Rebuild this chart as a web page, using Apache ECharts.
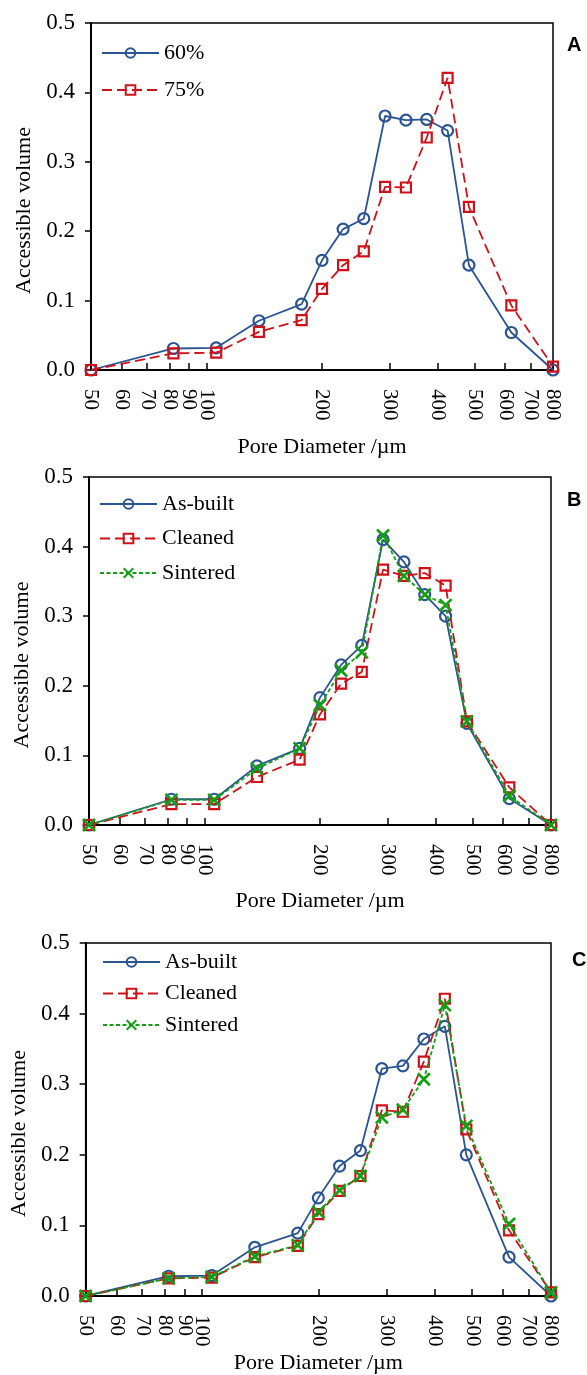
<!DOCTYPE html>
<html>
<head>
<meta charset="utf-8">
<script src="https://cdn.jsdelivr.net/npm/echarts@6/dist/echarts.min.js"></script>
<style>
  html, body { margin: 0; padding: 0; background: #fff; }
  #chart { width: 587px; height: 1375px; }
</style>
</head>
<body>
<div id="chart"></div>
<script>
// pore diameters (um) shared by every series
var poreSizes = [50, 82, 106, 137, 177, 200, 227, 257, 292, 331, 375, 425, 483, 623, 800];
var xTickValues = [50, 60, 70, 80, 90, 100, 200, 300, 400, 500, 600, 700, 800];

// panel A
var a60 = [0, 0.031, 0.032, 0.071, 0.095, 0.158, 0.203, 0.218, 0.366, 0.360, 0.361, 0.345, 0.151, 0.054, 0];
var a75 = [0, 0.024, 0.025, 0.055, 0.072, 0.117, 0.151, 0.171, 0.264, 0.263, 0.335, 0.421, 0.235, 0.093, 0.005];

// panel B
var bAsBuilt = [0, 0.037, 0.037, 0.085, 0.110, 0.183, 0.230, 0.258, 0.410, 0.378, 0.331, 0.300, 0.146, 0.038, 0];
var bCleaned = [0, 0.030, 0.030, 0.069, 0.094, 0.159, 0.203, 0.220, 0.367, 0.358, 0.362, 0.344, 0.149, 0.054, 0];
var bSintered = [0, 0.036, 0.036, 0.081, 0.110, 0.172, 0.222, 0.248, 0.416, 0.358, 0.331, 0.316, 0.149, 0.042, 0];

// panel C
var cAsBuilt = [0, 0.028, 0.029, 0.069, 0.089, 0.139, 0.184, 0.206, 0.322, 0.326, 0.364, 0.382, 0.200, 0.055, 0];
var cCleaned = [0, 0.025, 0.026, 0.055, 0.071, 0.116, 0.149, 0.170, 0.263, 0.261, 0.332, 0.421, 0.236, 0.093, 0.005];
var cSintered = [0, 0.025, 0.027, 0.056, 0.072, 0.119, 0.150, 0.170, 0.253, 0.264, 0.307, 0.412, 0.241, 0.102, 0.005];

var serif = "'Liberation Serif', 'Times New Roman', serif";
var BLUE = '#2b5592', RED = '#cf1119', GREEN = '#12a012';
var CROSS = 'path://M0,0L10,10M10,0L0,10';

function pairs(ys) {
    return poreSizes.map(function (x, i) { return [x, ys[i]]; });
}

function makeSeries(name, ys, idx, kind) {
    var s = {
        name: name,
        type: 'line',
        xAxisIndex: idx,
        yAxisIndex: idx,
        data: pairs(ys),
        symbolSize: 11,
        showAllSymbol: true,
        z: kind === 'blue' ? 2 : (kind === 'red' ? 3 : 4)
    };
    if (kind === 'blue') {
        s.symbol = 'circle';
        s.lineStyle = { color: BLUE, width: 1.8, type: 'solid' };
        s.itemStyle = { color: 'rgba(0,0,0,0)', borderColor: BLUE, borderWidth: 2.2 };
    } else if (kind === 'red') {
        s.symbol = 'rect';
        s.symbolSize = 10;
        s.lineStyle = { color: RED, width: 1.8, type: [10, 5] };
        s.itemStyle = { color: 'rgba(0,0,0,0)', borderColor: RED, borderWidth: 2.2 };
    } else {
        s.symbol = CROSS;
        s.symbolSize = 12;
        s.lineStyle = { color: GREEN, width: 1.8, type: [4, 2.5] };
        s.itemStyle = { color: 'rgba(0,0,0,0)', borderColor: GREEN, borderWidth: 2.6 };
    }
    return s;
}

var grids = [
    { left: 91, right: 34, top: 23, height: 347 },
    { left: 89, right: 36, top: 477, height: 348 },
    { left: 85, right: 36, top: 943, height: 355 }
];
var xNameGaps = [66, 65, 56];
var yNameGaps = [56, 56, 53];

var xAxes = grids.map(function (g, i) {
    return {
        type: 'log',
        logBase: 10,
        gridIndex: i,
        min: 50,
        max: 800,
        name: 'Pore Diameter /\u00b5m',
        nameLocation: 'middle',
        nameGap: xNameGaps[i],
        nameTextStyle: { fontFamily: serif, fontSize: 22, color: '#000' },
        axisLine: { lineStyle: { color: '#000', width: 2 } },
        axisTick: { inside: true, length: 7, customValues: xTickValues, lineStyle: { color: '#000', width: 1.5 } },
        axisLabel: {
            customValues: xTickValues,
            rotate: -90,
            margin: 19,
            hideOverlap: false,
            fontFamily: serif,
            fontSize: 21,
            color: '#000',
            formatter: function (v) { return String(Math.round(v)); }
        },
        splitLine: { show: false },
        minorTick: { show: false }
    };
});

var yAxes = grids.map(function (g, i) {
    return {
        type: 'value',
        gridIndex: i,
        min: 0,
        max: 0.5,
        interval: 0.1,
        name: 'Accessible volume',
        nameLocation: 'middle',
        nameGap: yNameGaps[i],
        nameTextStyle: { fontFamily: serif, fontSize: 22, color: '#000', padding: [0, 28, 0, 0] },
        axisLine: { show: true, lineStyle: { color: '#000', width: 2 } },
        axisTick: { show: true, inside: false, length: 6, lineStyle: { color: '#000', width: 1.5 } },
        axisLabel: {
            margin: 16,
            fontFamily: serif,
            fontSize: 23,
            color: '#000',
            formatter: function (v) { return v.toFixed(1); }
        },
        splitLine: { show: false }
    };
});

var legendBase = {
    orient: 'vertical',
    padding: 0,
    itemWidth: 57,
    itemHeight: 12,
    textStyle: { fontFamily: serif, fontSize: 22, color: '#000' },
    selectedMode: false
};

var option = {
    animation: false,
    backgroundColor: '#fff',
    grid: grids.map(function (g) {
        return Object.assign({ show: true, borderColor: '#000', borderWidth: 1.5, backgroundColor: 'transparent' }, g);
    }),
    xAxis: xAxes,
    yAxis: yAxes,
    legend: [
        Object.assign({}, legendBase, { left: 101, top: 42, itemGap: 15, data: ['60%', '75%'] }),
        Object.assign({}, legendBase, { left: 99, top: 493, itemGap: 12.5, data: ['As-built', 'Cleaned', 'Sintered'] }),
        Object.assign({}, legendBase, { left: 102, top: 951, itemGap: 9.5, data: ['As-built', 'Cleaned', 'Sintered'] })
    ],
    graphic: [
        { type: 'text', left: 567, top: 35, style: { text: 'A', font: 'bold 20px "Liberation Sans", Arial, sans-serif', fill: '#000' } },
        { type: 'text', left: 567, top: 490, style: { text: 'B', font: 'bold 20px "Liberation Sans", Arial, sans-serif', fill: '#000' } },
        { type: 'text', left: 572, top: 950, style: { text: 'C', font: 'bold 20px "Liberation Sans", Arial, sans-serif', fill: '#000' } }
    ],
    series: [
        makeSeries('60%', a60, 0, 'blue'),
        makeSeries('75%', a75, 0, 'red'),
        makeSeries('As-built', bAsBuilt, 1, 'blue'),
        makeSeries('Cleaned', bCleaned, 1, 'red'),
        makeSeries('Sintered', bSintered, 1, 'green'),
        makeSeries('As-built', cAsBuilt, 2, 'blue'),
        makeSeries('Cleaned', cCleaned, 2, 'red'),
        makeSeries('Sintered', cSintered, 2, 'green')
    ]
};

var chart = echarts.init(document.getElementById('chart'));
chart.setOption(option);
</script>
</body>
</html>
